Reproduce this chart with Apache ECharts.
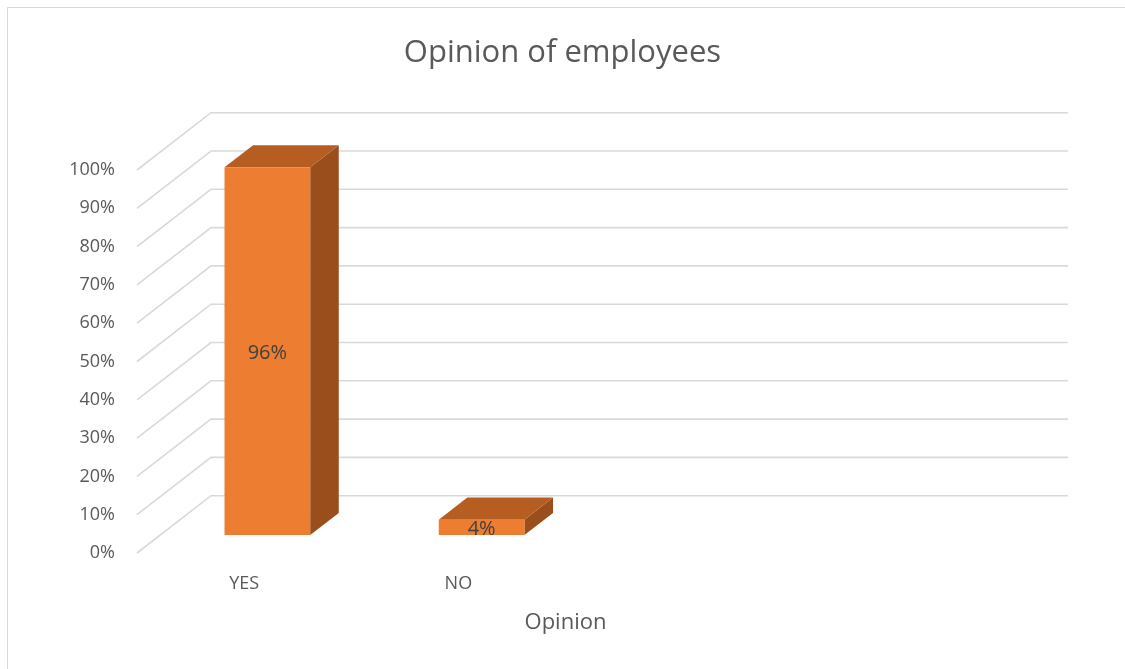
<!DOCTYPE html>
<html>
<head>
<meta charset="utf-8">
<title>Opinion of employees</title>
<script src="https://cdn.jsdelivr.net/npm/echarts@6/dist/echarts.min.js"></script>
<style>
  html, body { margin: 0; padding: 0; background: #ffffff; }
  #chart { width: 1125px; height: 669px; }
</style>
</head>
<body>
<div id="chart"></div>
<script>
// Categories along the floor (the last two slots are left empty)
var categories = ['YES', 'NO', '', ''];
// Share of employees per answer
var opinionValues = [0.96, 0.04];
var opinionLabels = ['96%', '4%'];
// Value axis ticks
var valueTicks = [0, 0.1, 0.2, 0.3, 0.4, 0.5, 0.6, 0.7, 0.8, 0.9, 1.0];

// Depth of the 3D box (pixels from front plane to back wall)
var DEPTH_X = 74;
var DEPTH_Y = -57.3;
// Bars sit between these fractions of the depth
var BAR_FRONT = 0.314;
var BAR_BACK = 0.70;
var BAR_WIDTH_RATIO = 0.4;

var FRONT_COLOR = '#ED7D31';
var TOP_COLOR = '#B65D21';
var SIDE_COLOR = '#9A4E1C';
var FONT = '"Open Sans", "Noto Sans", sans-serif';

var chart = echarts.init(document.getElementById('chart'), null, { renderer: 'canvas' });

// Side-wall diagonal plus back-wall horizontal line for one tick value
function renderGridLine(params, api) {
  var v = api.value(0);
  var cs = params.coordSys;
  var y = api.coord([0, v])[1];
  var x0 = cs.x;
  var x1 = cs.x + cs.width;
  return {
    type: 'polyline',
    shape: {
      points: [
        [x0, y],
        [x0 + DEPTH_X, y + DEPTH_Y],
        [x1 + DEPTH_X, y + DEPTH_Y]
      ]
    },
    style: { stroke: '#D9D9D9', lineWidth: 1.6, fill: null },
    silent: true
  };
}

// Box-shaped bar: side face, top face, front face and value label
function renderBar(params, api) {
  var idx = api.value(0);
  var val = api.value(1);
  var base = api.coord([idx, 0]);
  var top = api.coord([idx, val]);
  var band = api.size([1, 0])[0];
  var bw = band * BAR_WIDTH_RATIO;
  var fx = BAR_FRONT * DEPTH_X, fy = BAR_FRONT * DEPTH_Y;
  var dx = (BAR_BACK - BAR_FRONT) * DEPTH_X, dy = (BAR_BACK - BAR_FRONT) * DEPTH_Y;
  var left = base[0] - bw / 2 + fx;
  var right = base[0] + bw / 2 + fx;
  var yTop = top[1] + fy;
  var yBot = base[1] + fy;
  return {
    type: 'group',
    children: [
      {
        type: 'polygon',
        shape: { points: [[right, yTop], [right + dx, yTop + dy], [right + dx, yBot + dy], [right, yBot]] },
        style: { fill: SIDE_COLOR }
      },
      {
        type: 'polygon',
        shape: { points: [[left, yTop], [left + dx, yTop + dy], [right + dx, yTop + dy], [right, yTop]] },
        style: { fill: TOP_COLOR }
      },
      {
        type: 'rect',
        shape: { x: left, y: yTop, width: right - left, height: yBot - yTop },
        style: { fill: FRONT_COLOR }
      },
      {
        type: 'text',
        x: (left + right) / 2,
        y: (yTop + yBot) / 2 + 2,
        style: {
          text: opinionLabels[idx],
          fill: '#404040',
          font: '20px ' + FONT,
          align: 'center',
          verticalAlign: 'middle'
        },
        z2: 10
      }
    ]
  };
}

var option = {
  backgroundColor: '#ffffff',
  animation: false,
  title: {
    text: 'Opinion of employees',
    left: 'center',
    top: 33,
    textStyle: { color: '#595959', fontSize: 31, fontWeight: 'normal', fontFamily: FONT }
  },
  graphic: [
    {
      type: 'rect',
      shape: { x: 7.5, y: 7.5, width: 1130, height: 680 },
      style: { fill: null, stroke: '#D9D9D9', lineWidth: 1 },
      silent: true
    }
  ],
  grid: { left: 137, right: 131, top: 170, bottom: 116 },
  xAxis: {
    type: 'category',
    data: categories,
    boundaryGap: true,
    name: 'Opinion',
    nameLocation: 'middle',
    nameGap: 59,
    nameTextStyle: { color: '#595959', fontSize: 22, fontFamily: FONT },
    axisLine: { show: false },
    axisTick: { show: false },
    axisLabel: { color: '#595959', fontSize: 18, fontFamily: FONT, margin: 22 },
    splitLine: { show: false }
  },
  yAxis: {
    type: 'value',
    min: 0,
    max: 1,
    interval: 0.1,
    axisLine: { show: false },
    axisTick: { show: false },
    splitLine: { show: false },
    axisLabel: {
      color: '#595959',
      fontSize: 18,
      fontFamily: FONT,
      margin: 22,
      formatter: function (v) { return Math.round(v * 100) + '%'; }
    }
  },
  series: [
    {
      type: 'custom',
      name: 'grid',
      renderItem: renderGridLine,
      data: valueTicks.map(function (t) { return [t]; }),
      encode: { y: 0 },
      z: 1,
      silent: true
    },
    {
      type: 'custom',
      name: 'Opinion',
      renderItem: renderBar,
      data: opinionValues.map(function (v, i) { return [i, v]; }),
      encode: { x: 0, y: 1 },
      z: 2
    }
  ]
};

chart.setOption(option);
</script>
</body>
</html>
